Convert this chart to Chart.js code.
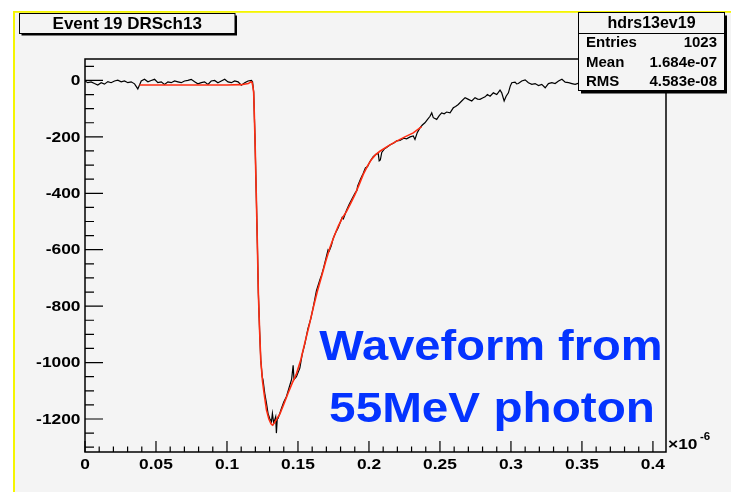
<!DOCTYPE html>
<html><head><meta charset="utf-8">
<script src="https://cdn.jsdelivr.net/npm/chart.js@4/dist/chart.umd.min.js"></script>
<style>html,body{margin:0;padding:0;background:#fff}canvas{display:block}</style>
</head><body>
<canvas id="c" width="731" height="492"></canvas>
<script>
// ---- data (time in units of 1e-6 s, amplitude in ADC counts) ----
const waveX = [0,0.002,0.0043,0.0067,0.009,0.0114,0.0137,0.0161,0.0184,0.0208,0.0231,0.0255,0.0278,0.0302,0.0325,0.0349,0.0372,0.0396,0.0419,0.0443,0.0466,0.049,0.0513,0.0537,0.056,0.0584,0.0607,0.0631,0.0654,0.0678,0.0701,0.0725,0.0748,0.0772,0.0795,0.0819,0.0842,0.0866,0.0889,0.0913,0.0936,0.096,0.0984,0.1007,0.1031,0.1054,0.1078,0.1101,0.1125,0.1148,0.1172,
0.118,0.1188,0.1197,0.1206,0.1214,0.1221,0.123,0.1238,0.1248,0.1254,0.1266,0.1278,0.1289,0.1301,0.1313,0.132,0.1329,0.1343,0.1348,0.1354,0.136,0.1372,0.1384,0.14,0.1419,0.144,0.1455,0.1466,0.1472,0.1489,0.1513,0.153,0.1548,0.157,0.159,0.1607,
0.163,0.1655,0.1666,0.168,0.17,0.1712,0.172,0.1735,0.1748,0.1765,0.1783,0.18,0.1812,0.182,0.1842,0.186,0.188,0.1901,0.1915,0.192,0.194,0.1959,0.1975,0.199,0.2006,0.203,0.205,0.2065,0.2072,0.208,0.209,0.211,0.2124,0.215,0.2175,0.2195,0.2218,0.2245,0.2265,0.229,0.2312,0.2324,0.234,0.2359,0.2376,0.2394,0.241,0.243,0.2442,0.2453,0.2477,0.2495,0.2512,0.253,0.2547,0.2571,0.2594,0.261,0.2629,0.2653,0.2677,0.27,0.2724,0.2747,0.2765,0.2782,0.28,0.2818,0.2834,0.2853,0.2876,0.29,0.2923,0.2935,0.2952,0.2966,0.2982,0.2995,0.3006,0.3029,0.304,0.3052,0.3076,0.31,0.3123,0.3147,0.317,0.3194,0.3217,0.3241,0.3264,0.3288,0.3311,0.3335,0.3359,0.3382,0.3406,0.3429,0.3452,0.3488,0.355,0.362,0.37,0.38,0.39,0.4,0.4092];
const waveY = [-2,-8,-5,-11,-16,-8,-13,-4,-8,-2,1,-5,-2,-8,-5,-12,-30,-2,4,-5,0,4,-8,-5,-14,-5,-8,-2,-5,-8,-2,0,4,-5,-12,-8,-5,-14,-2,0,-8,-2,4,-5,-8,-2,-5,-17,-8,-2,0,
-5,-40,-200,-398,-580,-754,-890,-991,-1050,-1062,-1109,-1144,-1180,-1198,-1210,-1180,-1215,-1192,-1250,-1200,-1198,-1180,-1162,-1140,-1120,-1085,-1060,-1010,-1060,-1050,-1020,-970,-935,-880,-845,-805,
-745,-705,-690,-665,-625,-600,-605,-585,-560,-540,-522,-500,-485,-490,-460,-440,-420,-400,-390,-375,-350,-330,-310,-305,-288,-270,-262,-258,-285,-282,-255,-242,-238,-228,-222,-214,-213,-205,-207,-200,-197,-209,-185,-168,-158,-150,-140,-127,-115,-132,-138,-125,-115,-118,-112,-115,-97,-92,-85,-73,-61,-67,-73,-61,-66,-67,-62,-58,-50,-56,-44,-50,-34,-44,-73,-56,-44,-20,-8,-6,-12,-11,-2,2,-8,-14,-11,-18,-14,-26,-11,-8,-11,-2,4,-6,-8,-11,-14,-8,-10,-6,-12,-8,-10,-6,-9];
const fitX = [0.0384,0.06,0.08,0.1,0.11,0.115,0.1168,0.1176,0.1182,0.1188,0.1197,0.1206,0.1214,0.1221,0.123,0.1238,0.125,0.1261,0.1278,0.1295,0.131,0.132,0.1332,0.135,0.1372,0.14,0.143,0.146,0.1489,0.152,0.1548,0.1578,0.1607,0.1636,0.1666,0.1695,0.1724,0.1754,0.1783,0.1812,0.1842,0.1871,0.1901,0.193,0.1959,0.199,0.2018,0.2047,0.2077,0.2136,0.2195,0.2253,0.2312,0.2371];
const fitY = [-16,-16,-16,-16,-15,-11,-5,-6,-20,-43,-200,-398,-580,-754,-890,-991,-1065,-1108,-1168,-1200,-1217,-1222,-1215,-1200,-1183,-1148,-1109,-1072,-1040,-990,-931,-870,-807,-748,-695,-642,-594,-553,-517,-488,-464,-436,-405,-370,-334,-303,-280,-263,-251,-232,-215,-200,-186,-164];

const xTicks = [0,0.05,0.1,0.15,0.2,0.25,0.3,0.35,0.4];
const xTickLabels = ['0','0.05','0.1','0.15','0.2','0.25','0.3','0.35','0.4'];
const yTicks = [0,-200,-400,-600,-800,-1000,-1200];
const yTickLabels = ['0','-200','-400','-600','-800','-1000','-1200'];
const xRange = [0, 0.4092];
const yRange = [-1317, 76];

const titleText = 'Event 19 DRSch13';
const statsName = 'hdrs13ev19';
const statsLabels = ['Entries','Mean','RMS'];
const statsValues = ['1023','1.684e-07','4.583e-08'];
const noteLines = ['Waveform from','55MeV photon'];
const exponentBase = '\u00d710';
const exponentPower = '-6';

// ---- drawing ----
const FONT = '"Liberation Sans", Arial, Helvetica, sans-serif';
const BG = '#f4f4f4';

function sText(ctx, text, x, y, sx, align) {
  ctx.save(); ctx.translate(x, y); ctx.scale(sx, 1);
  ctx.textAlign = align; ctx.fillText(text, 0, 0); ctx.restore();
}

const rootStyle = {
  id: 'rootStyle',
  beforeDraw(chart) {
    const ctx = chart.ctx, W = chart.width, H = chart.height;
    ctx.save();
    ctx.fillStyle = '#ffffff'; ctx.fillRect(0, 0, W, H);
    ctx.fillStyle = BG; ctx.fillRect(14, 12, W - 14, H - 12);
    ctx.fillStyle = '#f5f500';
    ctx.fillRect(13, 11, W - 13, 1.8);
    ctx.fillRect(13, 11, 2, H - 11);
    ctx.restore();
  },
  afterDraw(chart) {
    const ctx = chart.ctx, a = chart.chartArea;
    const xs = chart.scales.x, ys = chart.scales.y;
    ctx.save();
    // frame
    ctx.strokeStyle = '#000'; ctx.lineWidth = 1.5;
    ctx.strokeRect(a.left, a.top, a.right - a.left, a.bottom - a.top);
    // y ticks
    ctx.lineWidth = 1.2;
    ctx.beginPath();
    for (let v = -1300; v <= 50; v += 50) {
      const p = ys.getPixelForValue(v);
      if (p < a.top || p > a.bottom) continue;
      const len = (v % 200 === 0) ? 18 : 9;
      ctx.moveTo(a.left, p); ctx.lineTo(a.left + len, p);
    }
    // x ticks
    for (let i = 0; i <= 40; i++) {
      const v = i / 100;
      const p = xs.getPixelForValue(v);
      const len = (i % 5 === 0) ? 11 : 5.5;
      ctx.moveTo(p, a.bottom); ctx.lineTo(p, a.bottom - len);
    }
    ctx.stroke();
    // tick labels
    ctx.fillStyle = '#000';
    ctx.font = 'bold 15.5px ' + FONT;
    ctx.textBaseline = 'middle';
    yTicks.forEach((v, i) => sText(ctx, yTickLabels[i], a.left - 4.5, ys.getPixelForValue(v) + 0.5, 1.12, 'right'));
    ctx.textBaseline = 'alphabetic';
    xTicks.forEach((v, i) => sText(ctx, xTickLabels[i], xs.getPixelForValue(v), a.bottom + 16.5, 1.12, 'center'));
    // x10^-6
    ctx.font = 'bold 15.5px ' + FONT;
    sText(ctx, exponentBase, 668, 449, 1.12, 'left');
    ctx.font = 'bold 11px ' + FONT;
    sText(ctx, exponentPower, 700, 440, 1.05, 'left');
    // note text
    ctx.fillStyle = '#0433ff';
    ctx.font = 'bold 42px ' + FONT;
    sText(ctx, noteLines[0], 491, 360, 1.12, 'center');
    sText(ctx, noteLines[1], 492, 421.5, 1.135, 'center');
    // title box
    ctx.fillStyle = '#000';
    ctx.fillRect(21.5, 15.5, 215.5, 20);
    ctx.fillStyle = BG; ctx.fillRect(19.5, 13.5, 215.5, 20);
    ctx.lineWidth = 1; ctx.strokeStyle = '#000';
    ctx.strokeRect(19.5, 13.5, 215.5, 20);
    ctx.fillStyle = '#000';
    ctx.font = 'bold 17px ' + FONT;
    sText(ctx, titleText, 127.2, 29.3, 1.0, 'center');
    // stats box
    ctx.fillRect(581, 15.5, 146, 78);
    ctx.fillStyle = BG; ctx.fillRect(578.5, 12.5, 146, 78);
    ctx.strokeRect(578.5, 12.5, 146, 78);
    ctx.beginPath(); ctx.moveTo(578.5, 33.5); ctx.lineTo(724.5, 33.5); ctx.stroke();
    ctx.fillStyle = '#000';
    ctx.font = 'bold 16px ' + FONT;
    sText(ctx, statsName, 651.5, 27.5, 1.0, 'center');
    ctx.font = 'bold 15px ' + FONT;
    statsLabels.forEach((t, i) => {
      const yb = 47 + i * 19.6;
      sText(ctx, t, 586, yb, 1.0, 'left');
      sText(ctx, statsValues[i], 717, yb, 1.0, 'right');
    });
    ctx.restore();
  }
};

const toPts = (xsArr, ysArr) => xsArr.map((x, i) => ({ x: x, y: ysArr[i] }));

new Chart(document.getElementById('c'), {
  type: 'line',
  data: {
    datasets: [
      { label: 'fit', data: toPts(fitX, fitY), borderColor: '#ff2d12', borderWidth: 1.6, pointRadius: 0, tension: 0, order: 0, fill: false },
      { label: 'hdrs13ev19', data: toPts(waveX, waveY), borderColor: '#000000', borderWidth: 1.2, pointRadius: 0, tension: 0, order: 1, fill: false }
    ]
  },
  options: {
    responsive: false, animation: false, events: [],
    parsing: true,
    layout: { padding: { left: 85, top: 59, right: 65, bottom: 40 } },
    plugins: { legend: { display: false }, tooltip: { enabled: false }, title: { display: false } },
    scales: {
      x: { type: 'linear', min: xRange[0], max: xRange[1], display: false },
      y: { type: 'linear', min: yRange[0], max: yRange[1], display: false }
    }
  },
  plugins: [rootStyle]
});
</script>
</body></html>
